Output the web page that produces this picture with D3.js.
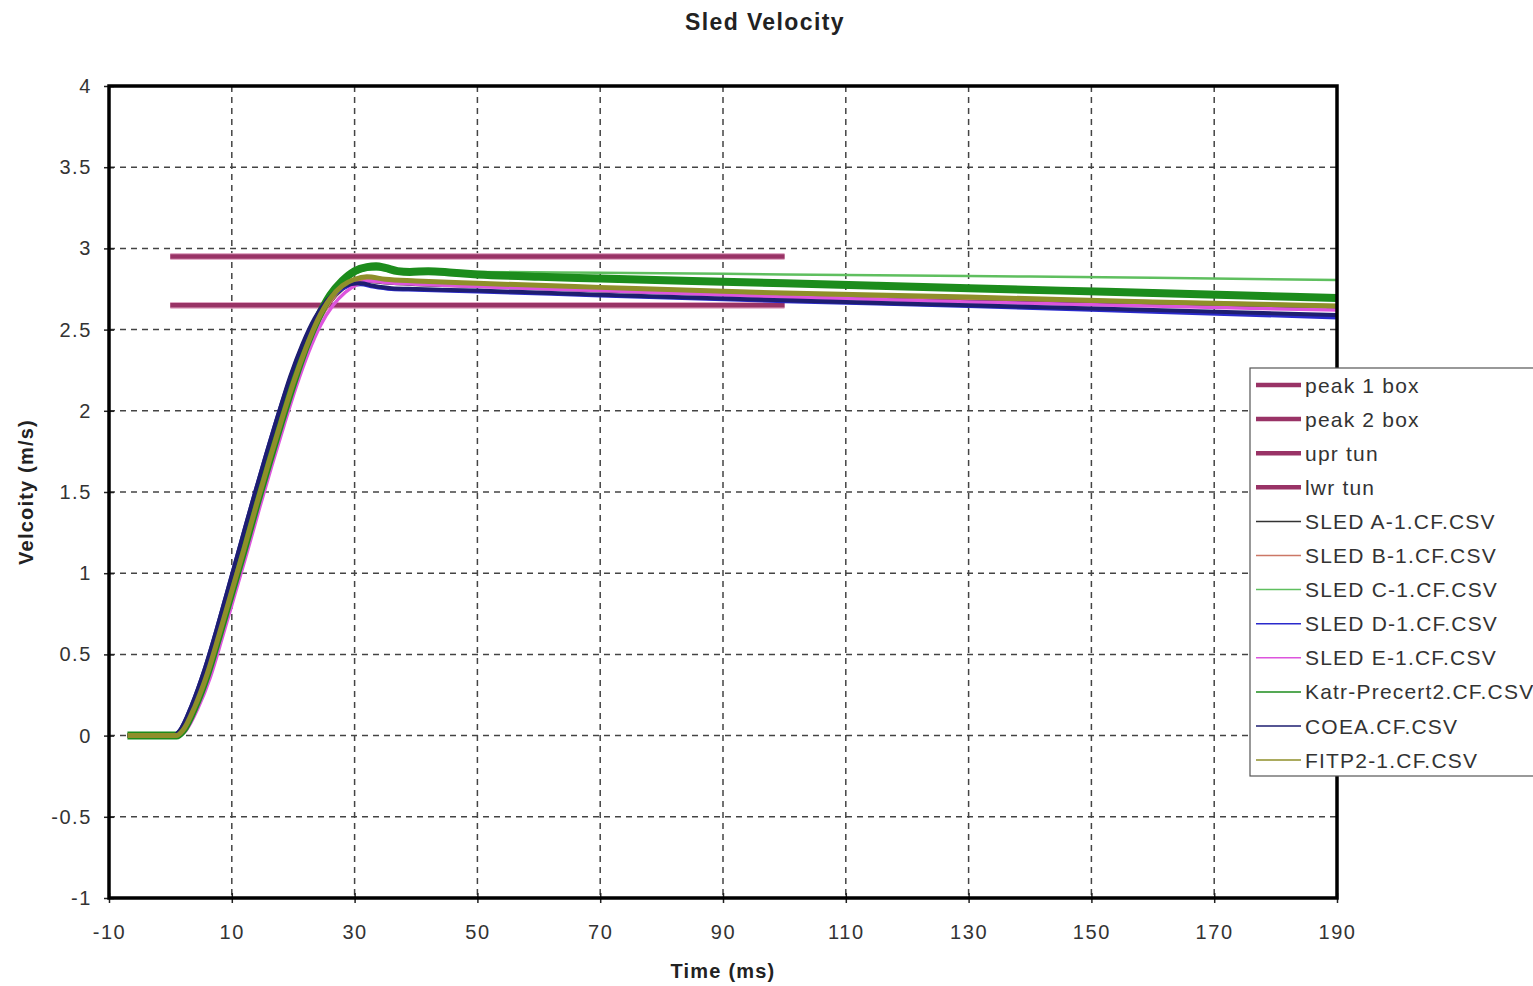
<!DOCTYPE html>
<html><head><meta charset="utf-8">
<script src="https://cdn.jsdelivr.net/npm/d3@7"></script>
<style>body{margin:0;background:#fff;}svg{display:block;font-family:"Liberation Sans",Arial,sans-serif;}</style>
</head><body><svg id="c" width="1533" height="986"></svg>
<script>
const xTicks = [-10,10,30,50,70,90,110,130,150,170,190];
const xTickLabels = ["-10","10","30","50","70","90","110","130","150","170","190"];
const yTicks = [-1,-0.5,0,0.5,1,1.5,2,2.5,3,3.5,4];
const yTickLabels = ["-1","-0.5","0","0.5","1","1.5","2","2.5","3","3.5","4"];

const peak1Box = [[0,2.95],[100,2.95]];
const peak2Box = [[0,2.65],[100,2.65]];
const uprTun = [[0,2.95],[100,2.95]];
const lwrTun = [[0,2.65],[100,2.65]];

const sledA = [[-7,0],[1,0],[2,0.03],[4,0.18],[6,0.38],[8,0.63],[10,0.89],[12,1.15],[14,1.42],[16,1.68],[18,1.93],[20,2.17],[22,2.38],[24,2.55],[26,2.67],[28,2.75],[30,2.79],[32,2.80],[35,2.79],[40,2.78],[50,2.77],[70,2.74],[100,2.71],[130,2.68],[160,2.655],[190,2.63]];
const sledB = [[-7,0],[1,0],[2,0.03],[4,0.17],[6,0.37],[8,0.62],[10,0.88],[12,1.14],[14,1.41],[16,1.67],[18,1.92],[20,2.16],[22,2.37],[24,2.54],[26,2.67],[28,2.76],[30,2.80],[32,2.815],[35,2.80],[40,2.79],[50,2.78],[70,2.755],[100,2.72],[130,2.695],[160,2.67],[190,2.645]];
const sledC = [[-7,0],[1,0],[2,0.03],[4,0.18],[6,0.38],[8,0.63],[10,0.89],[12,1.15],[14,1.42],[16,1.68],[18,1.93],[20,2.17],[22,2.39],[24,2.57],[26,2.70],[28,2.79],[30,2.84],[32,2.87],[34,2.87],[37,2.85],[40,2.85],[50,2.855],[70,2.85],[100,2.84],[130,2.83],[160,2.82],[190,2.805]];
const sledD = [[-7,0],[0.5,0],[1.5,0.03],[3.5,0.19],[5.5,0.40],[7.5,0.65],[9.5,0.92],[11.5,1.19],[13.5,1.46],[15.5,1.72],[17.5,1.97],[19.5,2.20],[21.5,2.40],[23.5,2.56],[25.5,2.67],[27.5,2.74],[29.5,2.775],[31,2.78],[33,2.765],[36,2.75],[40,2.745],[50,2.735],[70,2.71],[100,2.675],[130,2.645],[160,2.61],[190,2.575]];
const sledE = [[-7,0],[1.5,0],[2.5,0.03],[4.5,0.17],[6.5,0.36],[8.5,0.61],[10.5,0.87],[12.5,1.13],[14.5,1.40],[16.5,1.66],[18.5,1.91],[20.5,2.15],[22.5,2.36],[24.5,2.53],[26.5,2.65],[28.5,2.73],[30.5,2.78],[32.5,2.80],[35,2.79],[40,2.78],[50,2.765],[70,2.74],[100,2.70],[130,2.67],[160,2.645],[190,2.62]];
const katr = [[-7,0],[1,0],[2,0.03],[4,0.18],[6,0.38],[8,0.63],[10,0.89],[12,1.15],[14,1.42],[16,1.68],[18,1.93],[20,2.17],[22,2.39],[24,2.57],[26,2.71],[28,2.80],[30,2.86],[32,2.885],[33.5,2.89],[35,2.88],[37,2.86],[39,2.855],[42,2.86],[46,2.85],[50,2.84],[60,2.825],[70,2.815],[85,2.80],[100,2.785],[115,2.77],[130,2.755],[145,2.74],[160,2.725],[175,2.71],[190,2.695]];
const coea = [[-7,0],[0.5,0],[1.5,0.03],[3.5,0.19],[5.5,0.40],[7.5,0.65],[9.5,0.92],[11.5,1.19],[13.5,1.46],[15.5,1.72],[17.5,1.97],[19.5,2.21],[21.5,2.41],[23.5,2.57],[25.5,2.68],[27.5,2.75],[29.5,2.78],[31,2.785],[33,2.77],[36,2.755],[40,2.75],[50,2.74],[70,2.715],[100,2.68],[130,2.65],[160,2.62],[190,2.59]];
const fitp2 = [[-7,0],[1,0],[2,0.03],[4,0.18],[6,0.38],[8,0.63],[10,0.89],[12,1.15],[14,1.42],[16,1.68],[18,1.93],[20,2.17],[22,2.38],[24,2.56],[26,2.69],[28,2.77],[30,2.81],[32,2.825],[35,2.81],[40,2.80],[50,2.785],[70,2.76],[100,2.725],[130,2.70],[160,2.67],[190,2.645]];

const seriesNames = ["peak 1 box","peak 2 box","upr tun","lwr tun","SLED A-1.CF.CSV","SLED B-1.CF.CSV","SLED C-1.CF.CSV","SLED D-1.CF.CSV","SLED E-1.CF.CSV","Katr-Precert2.CF.CSV","COEA.CF.CSV","FITP2-1.CF.CSV"];
const seriesData = [peak1Box,peak2Box,uprTun,lwrTun,sledA,sledB,sledC,sledD,sledE,katr,coea,fitp2];
const seriesColors = ["#993366","#993366","#993366","#993366","#333333","#cc7766","#5fbf5f","#2a2acc","#dd55dd","#1c8c1c","#1e1e70","#8f8f2a"];
const seriesWidths = [4.5,4.5,4.5,4.5,4,4,2.5,4,3.5,8,4,5];
const legendWidths = [4.5,4.5,4.5,4.5,1.5,1.5,1.5,1.5,1.5,1.5,1.5,1.5];

const svg = d3.select("#c");
const L=109, R=1337, T=86, B=898;
const x = d3.scaleLinear().domain([-10,190]).range([L,R]);
const y = d3.scaleLinear().domain([-1,4]).range([B,T]);

// gridlines
const grid = svg.append("g");
grid.selectAll("line.v").data(xTicks.slice(1,-1)).join("line")
  .attr("x1",d=>x(d)).attr("x2",d=>x(d)).attr("y1",T).attr("y2",B)
  .attr("stroke","#444").attr("stroke-width",1.5).attr("stroke-dasharray","6,5");
grid.selectAll("line.h").data(yTicks.slice(1,-1)).join("line")
  .attr("y1",d=>y(d)).attr("y2",d=>y(d)).attr("x1",L).attr("x2",R)
  .attr("stroke","#444").attr("stroke-width",1.5).attr("stroke-dasharray","6,5");

const tickFont = {size:20, ls:1.6};
// axes
const xAxis = d3.axisBottom(x).tickValues(xTicks).tickFormat((d,i)=>xTickLabels[i]).tickSize(5).tickSizeOuter(0);
const gx = svg.append("g").attr("transform",`translate(0,${B})`).call(xAxis);
gx.select(".domain").remove();
gx.selectAll(".tick line").attr("y1",-5).attr("y2",5).attr("stroke","#222").attr("stroke-width",1.5);
gx.selectAll(".tick text").attr("y",27).attr("font-size",tickFont.size).attr("letter-spacing",tickFont.ls).attr("fill","#333").attr("font-family","Liberation Sans, Arial, sans-serif");

const yAxis = d3.axisLeft(y).tickValues(yTicks).tickFormat((d,i)=>yTickLabels[i]).tickSize(5).tickSizeOuter(0);
const gy = svg.append("g").attr("transform",`translate(${L},0)`).call(yAxis);
gy.select(".domain").remove();
gy.selectAll(".tick line").attr("x1",-5).attr("x2",5).attr("stroke","#222").attr("stroke-width",1.5);
gy.selectAll(".tick text").attr("x",-17).attr("font-size",tickFont.size).attr("letter-spacing",tickFont.ls).attr("fill","#333").attr("font-family","Liberation Sans, Arial, sans-serif");

// clip
svg.append("clipPath").attr("id","clip").append("rect").attr("x",L).attr("y",T).attr("width",R-L).attr("height",B-T);

const line = d3.line().x(d=>x(d[0])).y(d=>y(d[1])).curve(d3.curveMonotoneX);
const plot = svg.append("g").attr("clip-path","url(#clip)");
seriesData.forEach((s,i)=>{
  if(i<4){
    plot.append("path").attr("d",line(s)).attr("fill","none").attr("stroke","#e0a8c4").attr("stroke-width",seriesWidths[i]+2);
  }
  plot.append("path").attr("d",line(s)).attr("fill","none").attr("stroke",seriesColors[i]).attr("stroke-width",seriesWidths[i]).attr("stroke-linejoin","round");
});

// frame
svg.append("rect").attr("x",L).attr("y",T).attr("width",R-L).attr("height",B-T).attr("fill","none").attr("stroke","#000").attr("stroke-width",3.5);

// legend
const lg = svg.append("g");
lg.append("rect").attr("x",1250).attr("y",368).attr("width",300).attr("height",408).attr("fill","#fff").attr("stroke","#555").attr("stroke-width",1.2);
seriesNames.forEach((n,i)=>{
  const yy = 385 + i*34.1;
  lg.append("line").attr("x1",1256).attr("x2",1301).attr("y1",yy).attr("y2",yy).attr("stroke",seriesColors[i]).attr("stroke-width",legendWidths[i]);
  lg.append("text").attr("x",1305).attr("y",yy).attr("dy","0.36em").attr("font-size",21).attr("letter-spacing",1.2).attr("fill","#333").text(n);
});

// titles
svg.append("text").attr("x",765).attr("y",30).attr("text-anchor","middle").attr("font-weight","bold").attr("font-size",23).attr("letter-spacing",1.4).attr("fill","#222").text("Sled Velocity");
svg.append("text").attr("x",723).attr("y",978).attr("text-anchor","middle").attr("font-weight","bold").attr("font-size",20).attr("letter-spacing",1.2).attr("fill","#222").text("Time (ms)");
svg.append("text").attr("transform","translate(33,492) rotate(-90)").attr("text-anchor","middle").attr("font-weight","bold").attr("font-size",20).attr("letter-spacing",1.2).attr("fill","#222").text("Velcoity (m/s)");
</script></body></html>
